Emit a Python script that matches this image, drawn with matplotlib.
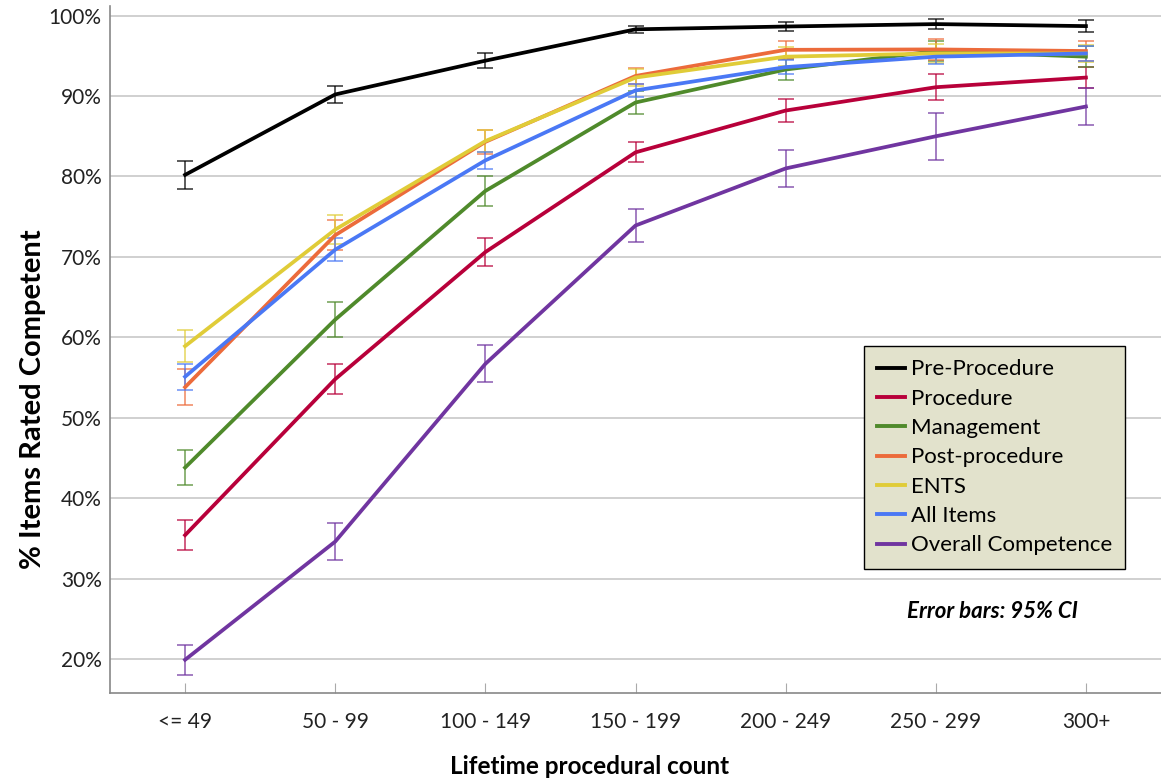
import matplotlib
matplotlib.use("Agg")
import matplotlib.pyplot as plt
from matplotlib.ticker import FuncFormatter

categories = ["<= 49", "50 - 99", "100 - 149", "150 - 199", "200 - 249", "250 - 299", "300+"]
series_names = ["Pre-Procedure", "Procedure", "Management", "Post-procedure", "ENTS", "All Items", "Overall Competence"]

pre_procedure = [80.2, 90.2, 94.4, 98.3, 98.65, 98.95, 98.7]
pre_procedure_err = [1.7, 1.05, 0.95, 0.45, 0.6, 0.6, 0.7]
procedure = [35.4, 54.8, 70.6, 83.0, 88.2, 91.1, 92.3]
procedure_err = [1.85, 1.85, 1.7, 1.25, 1.4, 1.6, 1.3]
management = [43.8, 62.2, 78.2, 89.2, 93.3, 95.6, 94.9]
management_err = [2.2, 2.2, 1.85, 1.4, 1.3, 1.2, 1.3]
post_procedure = [53.8, 72.7, 84.3, 92.5, 95.75, 95.8, 95.6]
post_procedure_err = [2.2, 1.9, 1.5, 1.0, 1.15, 1.3, 1.3]
ents = [58.9, 73.4, 84.4, 92.3, 94.9, 95.3, 95.3]
ents_err = [2.0, 1.8, 1.4, 1.1, 1.2, 1.2, 1.1]
all_items = [55.1, 70.9, 82.0, 90.7, 93.6, 94.9, 95.3]
all_items_err = [1.6, 1.4, 1.1, 0.8, 0.85, 0.9, 0.9]
overall = [19.9, 34.6, 56.7, 73.9, 81.0, 85.0, 88.7]
overall_err = [1.85, 2.3, 2.3, 2.1, 2.35, 2.9, 2.3]

yticks = [20, 30, 40, 50, 60, 70, 80, 90, 100]

data = [pre_procedure, procedure, management, post_procedure, ents, all_items, overall]
errs = [pre_procedure_err, procedure_err, management_err, post_procedure_err, ents_err, all_items_err, overall_err]
colors = ["#000000", "#b8003a", "#4f8a2b", "#ec6b3b", "#e0cc38", "#4a78f5", "#7035a0"]

plt.rcParams['font.family'] = ['Lato', 'DejaVu Sans']

fig = plt.figure(figsize=(11.61, 7.84), dpi=100)
ax = fig.add_axes([110/1161, 1 - 693/784, 1 - 110/1161, 687/784])

x = list(range(len(categories)))
for name, vals, er, c in zip(series_names, data, errs, colors):
    ax.errorbar(x, vals, yerr=er, fmt='none', ecolor=c, elinewidth=1.2,
                capsize=6, capthick=1.2, alpha=0.75, zorder=3)
    ax.plot(x, vals, color=c, lw=2.7, label=name, zorder=4, solid_joinstyle='round')

ax.set_xlim(-0.5, len(categories) - 0.5)
ax.set_ylim(15.77, 101.2)
ax.set_xticks(x)
ax.set_xticklabels(categories)
ax.set_yticks(yticks)
ax.yaxis.set_major_formatter(FuncFormatter(lambda v, p: f"{int(v)}%"))
ax.grid(axis='y', color='#c8c8c8', lw=1.2)
ax.set_axisbelow(True)
for s in ['top', 'right']:
    ax.spines[s].set_visible(False)
for s in ['left', 'bottom']:
    ax.spines[s].set_color('#888888')
    ax.spines[s].set_linewidth(1.2)
ax.tick_params(axis='x', direction='in', length=7, color='#aaaaaa', labelsize=15, pad=14, labelcolor='#222222')
ax.tick_params(axis='y', length=0, labelsize=15, pad=6, labelcolor='#222222')

ax.set_xlabel("Lifetime procedural count", fontsize=17.5, fontweight='bold')
ax.xaxis.set_label_coords((590 - 110) / 1051, (693 - 755) / 687)
ax.set_ylabel("% Items Rated Competent", fontsize=21, fontweight='bold')
ax.yaxis.set_label_coords((46 - 110) / 1051, 1 - (399 - 6) / 687)

leg = ax.legend(loc='upper left', bbox_to_anchor=((864-110)/1051, 1 - (346-6)/687),
                fontsize=16, frameon=True, fancybox=False, handlelength=1.25,
                handletextpad=0.25, labelspacing=0.42, borderpad=0.6, borderaxespad=0)
leg.get_frame().set_facecolor('#e2e2cc')
leg.get_frame().set_edgecolor('#000000')
leg.get_frame().set_linewidth(1.0)
leg.get_frame().set_alpha(1)
for line in leg.get_lines():
    line.set_linewidth(2.8)

fig.text(992/1161, 1 - 612/784, "Error bars: 95% CI", fontsize=16, fontweight='bold',
         fontstyle='italic', ha='center', va='center')

fig.savefig("out.png", dpi=100)
